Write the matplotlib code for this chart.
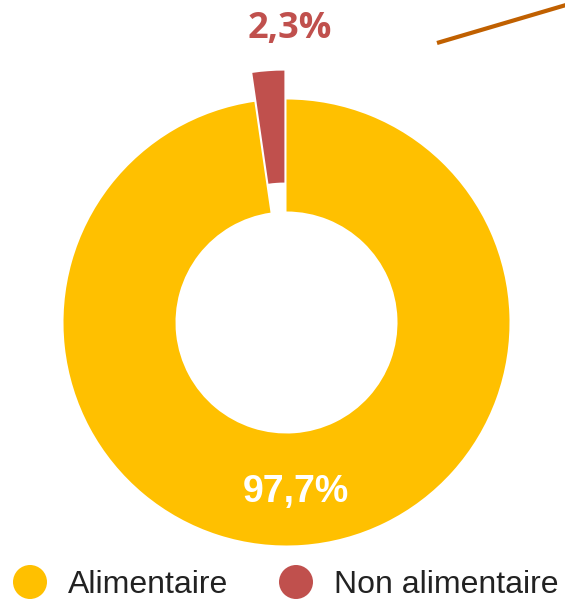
import matplotlib.pyplot as plt

labels = ['Alimentaire', 'Non alimentaire']
values = [97.7, 2.3]
colors = ['#FFC000', '#C0504D']

W, H = 565, 600
R = 223
# pie's explode is in data units, so scale the fraction by the radius
explode = [0, 0.13 * R]

fig = plt.figure(figsize=(W / 100, H / 100), dpi=100)
ax = fig.add_axes([0, 0, 1, 1])

# donut, coordinates in pixels (y measured from the bottom)
ax.pie(values, colors=colors, explode=explode, startangle=90,
       counterclock=False, center=(286.5, H - 322.5), radius=R,
       wedgeprops=dict(width=112, linewidth=0))

ax.set_xlim(0, W)
ax.set_ylim(0, H)
ax.set_aspect('equal')
ax.axis('off')

def pct(v):
    return f'{v:.1f}%'.replace('.', ',')

ax.text(290, H - 29, pct(values[1]), color=colors[1], fontsize=26,
        fontweight='bold', family='Open Sans', ha='center', va='center')
ax.text(296, H - 492, pct(values[0]), color='white', fontsize=27,
        fontweight='bold', family='Liberation Sans', ha='center', va='center')

# decorative line top right
ax.plot([437, 566], [H - 43, H - 5], color='#C06000', lw=3,
        solid_capstyle='butt')

# legend
leg_x = [30, 296]
for x, c, lab in zip(leg_x, colors, labels):
    ax.add_patch(plt.Circle((x, H - 582), 17, color=c, lw=0))
    ax.text(x + 38, H - 593, lab, fontsize=23, family='Liberation Sans',
            color='#222222', ha='left', va='baseline')

fig.savefig('out.png', dpi=100)
